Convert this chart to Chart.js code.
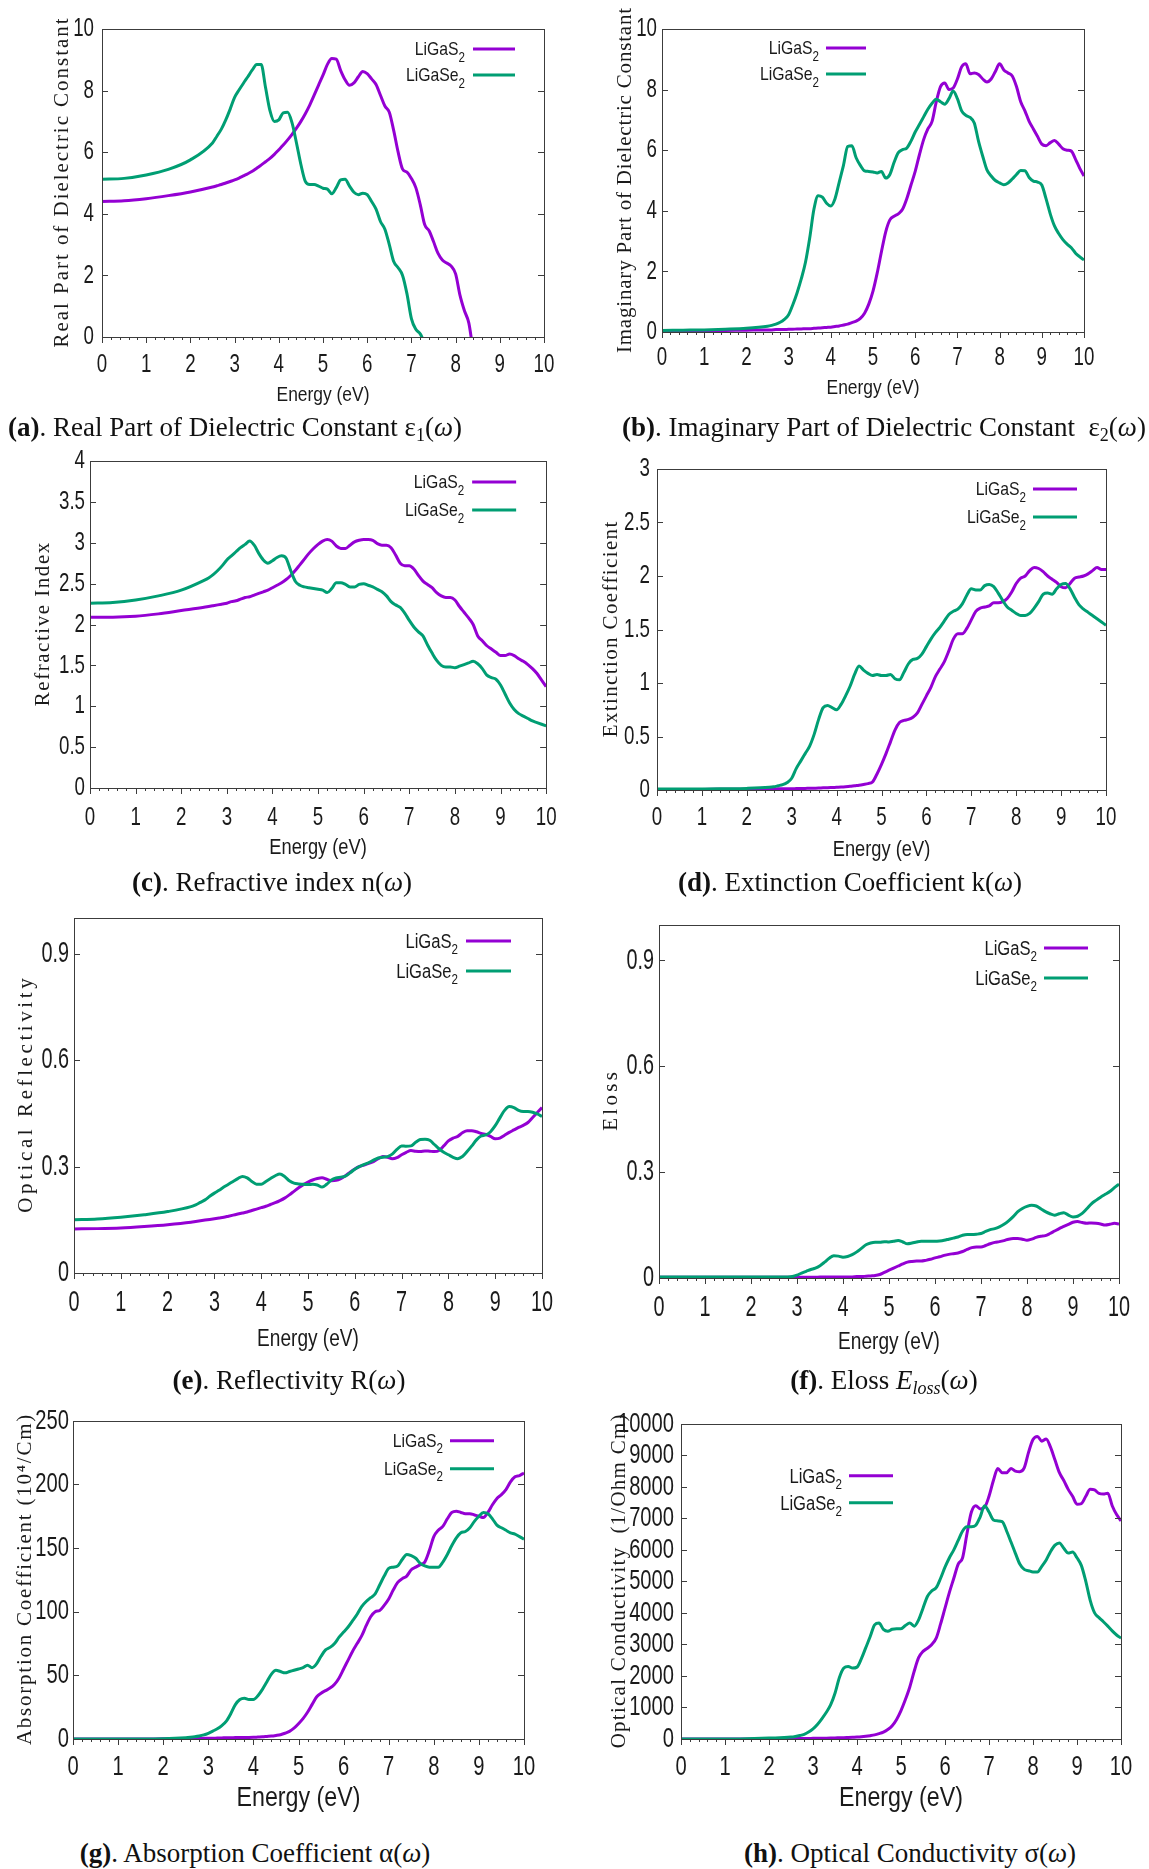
<!DOCTYPE html>
<html>
<head>
<meta charset="utf-8">
<title>LiGaS2 / LiGaSe2 optical properties</title>
<script src="https://cdn.jsdelivr.net/npm/chart.js@4.4.1/dist/chart.umd.min.js"></script>
<style>
  html, body { margin: 0; padding: 0; background: #fff; }
  body { position: relative; width: 1149px; height: 1869px; overflow: hidden;
         font-family: "Liberation Serif", "Times New Roman", serif; }
  canvas { position: absolute; }
  .cap { position: absolute; transform: translate(-50%, -50%); white-space: pre;
         font-size: 27px; line-height: 32px; color: #111; }
  .cap sub { font-size: 18px; vertical-align: -5px; line-height: 0; }
</style>
</head>
<body>
<canvas id="chartA"></canvas>
<canvas id="chartB"></canvas>
<canvas id="chartC"></canvas>
<canvas id="chartD"></canvas>
<canvas id="chartE"></canvas>
<canvas id="chartF"></canvas>
<canvas id="chartG"></canvas>
<canvas id="chartH"></canvas>

<div class="cap" style="left:235px;top:427px"><b>(a)</b>. Real Part of Dielectric Constant ε<sub>1</sub>(<i>ω</i>)</div>
<div class="cap" style="left:884px;top:427px"><b>(b)</b>. Imaginary Part of Dielectric Constant  ε<sub>2</sub>(<i>ω</i>)</div>
<div class="cap" style="left:272px;top:882px"><b>(c)</b>. Refractive index n(<i>ω</i>)</div>
<div class="cap" style="left:850px;top:882px"><b>(d)</b>. Extinction Coefficient k(<i>ω</i>)</div>
<div class="cap" style="left:289px;top:1380px"><b>(e)</b>. Reflectivity R(<i>ω</i>)</div>
<div class="cap" style="left:884px;top:1380px"><b>(f)</b>. Eloss <i>E<sub>loss</sub></i>(<i>ω</i>)</div>
<div class="cap" style="left:255px;top:1853px"><b>(g)</b>. Absorption Coefficient α(<i>ω</i>)</div>
<div class="cap" style="left:910px;top:1853px"><b>(h)</b>. Optical Conductivity σ(<i>ω</i>)</div>

<script>
// photon energy (eV), shared by every panel
const energy = [0, 0.5, 1, 1.5, 2,
  2.5, 2.6, 2.7, 2.8, 2.9,
  3.0, 3.1, 3.2, 3.3, 3.4, 3.5, 3.6, 3.7, 3.8, 3.9,
  4.0, 4.1, 4.2, 4.3, 4.4, 4.5, 4.6, 4.7, 4.8, 4.9,
  5.0, 5.1, 5.2, 5.3, 5.4, 5.5, 5.6, 5.7, 5.8, 5.9,
  6.0, 6.1, 6.2, 6.3, 6.4, 6.5, 6.6, 6.7, 6.8, 6.9,
  7.0, 7.1, 7.2, 7.3, 7.4, 7.5, 7.6, 7.7, 7.8, 7.9,
  8.0, 8.1, 8.2, 8.3, 8.4, 8.5, 8.6, 8.7, 8.8, 8.9,
  9.0, 9.1, 9.2, 9.3, 9.4, 9.5, 9.6, 9.7, 9.8, 9.9,
  10.0];

const seriesNames = ['LiGaS', 'LiGaSe'];   // both carry subscript 2

// (a) real part of dielectric constant
const eps1S = [4.40, 4.42, 4.49, 4.59, 4.71,
  4.87, 4.91, 4.95, 5.00, 5.05,
  5.10, 5.16, 5.23, 5.30, 5.38, 5.48, 5.58, 5.69, 5.80, 5.93,
  6.08, 6.23, 6.40, 6.58, 6.78, 7.00, 7.25, 7.53, 7.85, 8.18,
  8.50, 8.85, 9.04, 9.02, 8.65, 8.35, 8.17, 8.25, 8.45, 8.62,
  8.55, 8.38, 8.20, 7.85, 7.50, 7.30, 6.70, 6.00, 5.45, 5.35,
  5.15, 4.85, 4.30, 3.65, 3.45, 3.10, 2.72, 2.50, 2.40, 2.30,
  2.05, 1.35, 0.85, 0.45, -0.50, null, null, null, null, null,
  null, null, null, null, null, null, null, null, null, null,
  null];
const eps1Se = [5.12, 5.15, 5.26, 5.44, 5.75,
  6.30, 6.52, 6.75, 7.05, 7.40,
  7.78, 8.02, 8.24, 8.45, 8.67, 8.85, 8.85, 8.10, 7.35, 7.00,
  7.05, 7.28, 7.30, 6.95, 6.30, 5.60, 5.05, 4.95, 4.95, 4.90,
  4.83, 4.80, 4.65, 4.85, 5.10, 5.12, 4.90, 4.70, 4.62, 4.67,
  4.62, 4.40, 4.15, 3.75, 3.50, 3.00, 2.45, 2.25, 2.00, 1.40,
  0.60, 0.25, 0.10, -0.20, null, null, null, null, null, null,
  null, null, null, null, null, null, null, null, null, null,
  null, null, null, null, null, null, null, null, null, null,
  null];

// (b) imaginary part of dielectric constant
const eps2S = [0.02, 0.03, 0.04, 0.05, 0.06,
  0.07, 0.07, 0.08, 0.08, 0.08,
  0.09, 0.09, 0.10, 0.10, 0.11, 0.11, 0.12, 0.13, 0.14, 0.15,
  0.16, 0.18, 0.20, 0.23, 0.26, 0.31, 0.36, 0.45, 0.62, 0.92,
  1.35, 1.95, 2.65, 3.30, 3.70, 3.82, 3.90, 4.05, 4.40, 4.85,
  5.30, 5.85, 6.35, 6.70, 6.95, 7.60, 8.10, 8.22, 8.00, 8.05,
  8.35, 8.75, 8.85, 8.52, 8.55, 8.50, 8.35, 8.25, 8.35, 8.60,
  8.85, 8.65, 8.55, 8.45, 8.10, 7.60, 7.30, 6.95, 6.70, 6.45,
  6.20, 6.15, 6.25, 6.32, 6.20, 6.05, 6.00, 5.97, 5.70, 5.40,
  5.15];
const eps2Se = [0.05, 0.06, 0.07, 0.09, 0.12,
  0.19, 0.22, 0.26, 0.32, 0.42,
  0.57, 0.90, 1.29, 1.75, 2.30, 3.10, 4.05, 4.50, 4.45, 4.25,
  4.16, 4.40, 4.95, 5.50, 6.12, 6.15, 5.75, 5.50, 5.32, 5.30,
  5.28, 5.25, 5.30, 5.08, 5.20, 5.60, 5.92, 6.02, 6.07, 6.30,
  6.60, 6.85, 7.10, 7.35, 7.55, 7.68, 7.60, 7.52, 7.70, 7.95,
  7.70, 7.30, 7.15, 7.08, 6.90, 6.30, 5.80, 5.35, 5.15, 5.00,
  4.92, 4.86, 4.92, 5.05, 5.20, 5.33, 5.32, 5.10, 4.98, 4.95,
  4.85, 4.40, 3.90, 3.50, 3.25, 3.05, 2.90, 2.78, 2.60, 2.48,
  2.38];

// (c) refractive index
const nS = [2.09, 2.09, 2.10, 2.13, 2.17,
  2.21, 2.22, 2.23, 2.24, 2.25,
  2.26, 2.28, 2.29, 2.31, 2.33, 2.34, 2.36, 2.38, 2.40, 2.42,
  2.45, 2.48, 2.51, 2.55, 2.60, 2.66, 2.73, 2.80, 2.87, 2.93,
  2.98, 3.02, 3.04, 3.02, 2.96, 2.93, 2.93, 2.97, 3.01, 3.03,
  3.04, 3.04, 3.03, 2.99, 2.97, 2.97, 2.94, 2.85, 2.75, 2.72,
  2.72, 2.68, 2.60, 2.53, 2.49, 2.45, 2.39, 2.35, 2.33, 2.33,
  2.30, 2.22, 2.15, 2.08, 2.00, 1.86, 1.80, 1.74, 1.70, 1.66,
  1.62, 1.62, 1.64, 1.62, 1.58, 1.55, 1.51, 1.46, 1.40, 1.32,
  1.24];
const nSe = [2.26, 2.27, 2.30, 2.35, 2.42,
  2.54, 2.57, 2.61, 2.66, 2.72,
  2.79, 2.84, 2.89, 2.94, 2.98, 3.02, 2.97, 2.87, 2.79, 2.75,
  2.78, 2.82, 2.84, 2.81, 2.66, 2.53, 2.48, 2.46, 2.45, 2.44,
  2.43, 2.42, 2.39, 2.44, 2.51, 2.51, 2.49, 2.46, 2.46, 2.49,
  2.50, 2.48, 2.46, 2.43, 2.40, 2.35, 2.28, 2.24, 2.21, 2.14,
  2.05, 1.97, 1.91, 1.86, 1.75, 1.65, 1.56, 1.50, 1.48, 1.48,
  1.47, 1.49, 1.51, 1.53, 1.55, 1.52, 1.46, 1.38, 1.35, 1.33,
  1.26, 1.15, 1.04, 0.96, 0.91, 0.88, 0.85, 0.82, 0.80, 0.78,
  0.76];

// (d) extinction coefficient
const kS = [0.000, 0.005, 0.005, 0.007, 0.008,
  0.010, 0.010, 0.011, 0.011, 0.012,
  0.012, 0.013, 0.014, 0.015, 0.016, 0.017, 0.018, 0.020, 0.021, 0.023,
  0.025, 0.027, 0.030, 0.034, 0.040, 0.045, 0.052, 0.060, 0.075, 0.150,
  0.240, 0.340, 0.450, 0.560, 0.630, 0.650, 0.660, 0.680, 0.720, 0.800,
  0.880, 0.960, 1.060, 1.130, 1.200, 1.300, 1.410, 1.460, 1.460, 1.510,
  1.590, 1.670, 1.700, 1.710, 1.720, 1.750, 1.750, 1.760, 1.790, 1.850,
  1.930, 1.980, 2.000, 2.050, 2.080, 2.070, 2.040, 2.000, 1.970, 1.940,
  1.900, 1.890, 1.930, 1.980, 1.990, 2.000, 2.020, 2.050, 2.080, 2.060,
  2.060];
const kSe = [0.010, 0.010, 0.010, 0.012, 0.015,
  0.025, 0.030, 0.040, 0.050, 0.070,
  0.110, 0.200, 0.270, 0.340, 0.410, 0.520, 0.660, 0.770, 0.790, 0.770,
  0.750, 0.800, 0.880, 0.970, 1.080, 1.160, 1.120, 1.090, 1.070, 1.080,
  1.070, 1.070, 1.080, 1.040, 1.030, 1.100, 1.180, 1.220, 1.230, 1.270,
  1.340, 1.410, 1.470, 1.520, 1.580, 1.640, 1.670, 1.690, 1.740, 1.820,
  1.880, 1.870, 1.870, 1.910, 1.920, 1.900, 1.840, 1.770, 1.710, 1.680,
  1.650, 1.630, 1.630, 1.650, 1.700, 1.760, 1.830, 1.840, 1.830, 1.880,
  1.920, 1.930, 1.880, 1.800, 1.730, 1.690, 1.660, 1.630, 1.600, 1.570,
  1.540];

// (e) reflectivity
const rS = [0.124, 0.125, 0.127, 0.131, 0.136,
  0.143, 0.145, 0.147, 0.149, 0.151,
  0.153, 0.155, 0.157, 0.160, 0.163, 0.166, 0.169, 0.172, 0.176, 0.180,
  0.184, 0.188, 0.193, 0.198, 0.204, 0.211, 0.220, 0.230, 0.240, 0.249,
  0.256, 0.262, 0.266, 0.268, 0.264, 0.260, 0.261, 0.266, 0.274, 0.284,
  0.293, 0.300, 0.304, 0.309, 0.314, 0.322, 0.328, 0.326, 0.322, 0.325,
  0.333, 0.340, 0.345, 0.343, 0.342, 0.344, 0.343, 0.342, 0.345, 0.358,
  0.372, 0.380, 0.385, 0.395, 0.401, 0.401, 0.398, 0.393, 0.390, 0.385,
  0.378, 0.380, 0.388, 0.396, 0.403, 0.410, 0.416, 0.424, 0.438, 0.452,
  0.466];
const rSe = [0.150, 0.152, 0.157, 0.164, 0.173,
  0.187, 0.192, 0.199, 0.206, 0.216,
  0.225, 0.233, 0.242, 0.250, 0.258, 0.266, 0.272, 0.268, 0.258, 0.250,
  0.250, 0.258, 0.266, 0.274, 0.279, 0.272, 0.260, 0.253, 0.251, 0.250,
  0.249, 0.250, 0.248, 0.242, 0.250, 0.262, 0.268, 0.270, 0.273, 0.282,
  0.292, 0.300, 0.306, 0.311, 0.318, 0.324, 0.326, 0.328, 0.335, 0.348,
  0.358, 0.357, 0.358, 0.368, 0.376, 0.377, 0.374, 0.362, 0.350, 0.340,
  0.333, 0.326, 0.322, 0.328, 0.342, 0.358, 0.375, 0.386, 0.389, 0.398,
  0.415, 0.437, 0.458, 0.469, 0.466, 0.458, 0.455, 0.455, 0.453, 0.448,
  0.441];

// (f) energy loss
const lossS = [0.002, 0.002, 0.002, 0.002, 0.002,
  0.002, 0.002, 0.002, 0.002, 0.002,
  0.002, 0.002, 0.002, 0.002, 0.002, 0.003, 0.003, 0.003, 0.003, 0.003,
  0.003, 0.003, 0.003, 0.004, 0.004, 0.005, 0.006, 0.007, 0.010, 0.016,
  0.022, 0.028, 0.034, 0.040, 0.045, 0.047, 0.048, 0.048, 0.050, 0.053,
  0.057, 0.060, 0.064, 0.067, 0.069, 0.071, 0.075, 0.081, 0.086, 0.088,
  0.088, 0.092, 0.097, 0.101, 0.103, 0.106, 0.110, 0.112, 0.112, 0.110,
  0.107, 0.110, 0.115, 0.118, 0.120, 0.126, 0.133, 0.140, 0.146, 0.152,
  0.158, 0.160, 0.157, 0.155, 0.156, 0.155, 0.153, 0.150, 0.152, 0.155,
  0.153];
const lossSe = [0.003, 0.003, 0.003, 0.003, 0.003,
  0.003, 0.003, 0.003, 0.003, 0.004,
  0.008, 0.014, 0.019, 0.024, 0.028, 0.035, 0.045, 0.056, 0.063, 0.062,
  0.059, 0.061, 0.066, 0.074, 0.084, 0.094, 0.099, 0.101, 0.101, 0.103,
  0.102, 0.104, 0.106, 0.102, 0.097, 0.099, 0.102, 0.104, 0.104, 0.104,
  0.104, 0.105, 0.107, 0.110, 0.113, 0.116, 0.121, 0.123, 0.123, 0.124,
  0.126, 0.132, 0.137, 0.140, 0.145, 0.152, 0.162, 0.174, 0.188, 0.197,
  0.203, 0.206, 0.204, 0.196, 0.188, 0.182, 0.178, 0.182, 0.185, 0.178,
  0.173, 0.175, 0.183, 0.196, 0.210, 0.220, 0.229, 0.237, 0.245, 0.256,
  0.266];

// (g) absorption coefficient (10^4 / cm)
const alphaS = [0, 0, 0, 0, 0.1,
  0.2, 0.3, 0.3, 0.4, 0.5,
  0.5, 0.6, 0.7, 0.8, 1.0, 1.0, 1.1, 1.1, 1.2, 1.2,
  1.3, 1.5, 1.7, 2.0, 2.3, 2.8, 3.4, 4.5, 6.0, 8.5,
  12, 16, 21, 27, 33, 36, 38, 40, 43, 48,
  55, 62, 69, 75, 81, 89, 96, 100, 101, 105,
  110, 117, 123, 126, 128, 133, 135, 137, 139, 148,
  159, 164, 167, 173, 178, 179, 178, 177, 177, 176,
  175, 174, 178, 184, 189, 192, 196, 202, 206, 207,
  209];
const alphaSe = [0, 0, 0, 0, 0.2,
  1.0, 1.3, 1.7, 2.3, 3.2,
  4.5, 6.2, 8.0, 10.5, 14, 20, 27, 31, 32, 31,
  31, 34, 39, 45, 51, 54, 53, 52, 53, 54,
  55, 56, 58, 56, 59, 65, 70, 72, 75, 80,
  84, 88, 93, 98, 104, 108, 111, 114, 121, 128,
  134, 135, 136, 141, 145, 144, 142, 138, 136, 135,
  135, 135, 139, 145, 152, 158, 162, 163, 166, 171,
  175, 178, 177, 173, 168, 166, 164, 162, 161, 159,
  157];

// (h) optical conductivity (1/Ohm cm)
const sigmaS = [0, 0, 0, 0, 5,
  10, 12, 14, 16, 18,
  20, 22, 24, 26, 30, 35, 38, 42, 48, 54,
  60, 70, 85, 105, 130, 170, 220, 300, 420, 620,
  900, 1250, 1650, 2150, 2580, 2780, 2880, 3000, 3200, 3650,
  4150, 4650, 5100, 5550, 5750, 6520, 7200, 7400, 7300, 7350,
  7700, 8200, 8580, 8450, 8450, 8580, 8500, 8480, 8600, 9100,
  9500, 9600, 9450, 9520, 9250, 8850, 8450, 8200, 7920, 7700,
  7450, 7470, 7700, 7920, 7900, 7790, 7770, 7800, 7400, 7120,
  6920];
const sigmaSe = [0, 0, 0, 10, 30,
  60, 80, 110, 150, 220,
  320, 460, 640, 840, 1080, 1450, 1950, 2250, 2300, 2250,
  2280, 2550, 2900, 3250, 3620, 3680, 3480, 3420, 3480, 3500,
  3500, 3600, 3680, 3580, 3780, 4150, 4520, 4700, 4800, 5100,
  5450, 5750, 6000, 6300, 6600, 6730, 6730, 6780, 7050, 7400,
  7200, 6950, 6920, 6900, 6600, 6250, 5890, 5550, 5380, 5340,
  5300, 5300, 5480, 5680, 5950, 6150, 6220, 6050, 5900, 5930,
  5750, 5500, 5000, 4400, 4000, 3850, 3720, 3580, 3430, 3300,
  3200];

// tick labels
const xTicks = [0, 1, 2, 3, 4, 5, 6, 7, 8, 9, 10];
const yTicksEps = [0, 2, 4, 6, 8, 10];
const yTicksN = [0, 0.5, 1, 1.5, 2, 2.5, 3, 3.5, 4];
const yTicksK = [0, 0.5, 1, 1.5, 2, 2.5, 3];
const yTicksR = [0, 0.3, 0.6, 0.9];
const yTicksAlpha = [0, 50, 100, 150, 200, 250];
const yTicksSigma = [0, 1000, 2000, 3000, 4000, 5000, 6000, 7000, 8000, 9000, 10000];

const PURPLE = '#9400d3';
const GREEN = '#009e73';
const SANS = '"Liberation Sans Narrow", "Liberation Sans", Arial, sans-serif';
const SERIF = '"Liberation Serif", "DejaVu Serif", serif';
const TEXT_SQUEEZE = 0.83;   // the original uses a condensed sans face

// box = canvas [x, y, w, h]; area = plot frame [left, top, right, bottom] in page pixels
const panels = [
  { canvas: 'chartA', s: eps1S, se: eps1Se, yTicks: yTicksEps, yMax: 10,
    box: [0, 0, 575, 410], area: [102, 29, 544, 337], tick: 26, squeeze: 0.72, xLab: 28, yLab: 8,
    xTitle: 21, xTitleOff: 58, yTitle: 'Real Part of Dielectric Constant', yTitleOff: 40, yTitleLen: 331,
    legend: { side: 'right', text: 79, l1: 71, l2: 29, rows: [20, 46], size: 19 } },
  { canvas: 'chartB', s: eps2S, se: eps2Se, yTicks: yTicksEps, yMax: 10,
    box: [575, 0, 574, 410], area: [662, 29, 1084, 332], tick: 26, squeeze: 0.72, xLab: 26, yLab: 5,
    xTitle: 21, xTitleOff: 56, yTitle: 'Imaginary Part of Dielectric Constant', yTitleOff: 37, yTitleLen: 346,
    legend: { side: 'left', text: 157, l1: 164, l2: 204, rows: [19, 45], size: 19 } },
  { canvas: 'chartC', s: nS, se: nSe, yTicks: yTicksN, yMax: 4,
    box: [0, 410, 575, 460], area: [90, 461, 549, 788], tick: 26, squeeze: 0.72, xLab: 30, yLab: 5,
    xTitle: 22, xTitleOff: 60, yTitle: 'Refractive Index', yTitleOff: 47, yTitleLen: 165,
    legend: { side: 'right', text: 82, l1: 74, l2: 30, rows: [21, 49], size: 19 } },
  { canvas: 'chartD', s: kS, se: kSe, yTicks: yTicksK, yMax: 3,
    box: [575, 410, 574, 460], area: [657, 469, 1106, 790], tick: 26, squeeze: 0.72, xLab: 28, yLab: 7,
    xTitle: 22, xTitleOff: 60, yTitle: 'Extinction Coefficient', yTitleOff: 46, yTitleLen: 217,
    legend: { side: 'right', text: 80, l1: 73, l2: 29, rows: [20, 48], size: 19 } },
  { canvas: 'chartE', s: rS, se: rSe, yTicks: yTicksR, yMax: 1,
    box: [0, 870, 575, 495], area: [74, 918, 542, 1273], tick: 30, squeeze: 0.66, xLab: 30, yLab: 5,
    xTitle: 23, xTitleOff: 67, yTitle: 'Optical Reflectivity', yTitleOff: 48, yTitleLen: 238,
    legend: { side: 'right', text: 84, l1: 76, l2: 31, rows: [23, 53], size: 20 } },
  { canvas: 'chartF', s: lossS, se: lossSe, yTicks: yTicksR, yMax: 1,
    box: [575, 870, 574, 495], area: [659, 925, 1119, 1278], tick: 30, squeeze: 0.66, xLab: 30, yLab: 5,
    xTitle: 23, xTitleOff: 65, yTitle: 'Eloss', yTitleOff: 48, yTitleLen: 62,
    legend: { side: 'right', text: 82, l1: 75, l2: 31, rows: [23, 53], size: 20 } },
  { canvas: 'chartG', s: alphaS, se: alphaSe, yTicks: yTicksAlpha, yMax: 250,
    box: [0, 1400, 575, 435], area: [73, 1415, 524, 1739], tick: 28, squeeze: 0.72, xLab: 28, yLab: 4,
    xTitle: 28, xTitleOff: 59, yTitle: 'Absorption Coefficient (10\u2074/Cm)', yTitleOff: 48, yTitleLen: 332,
    legend: { side: 'right', text: 81, l1: 74, l2: 30, rows: [20, 48], size: 19 } },
  { canvas: 'chartH', s: sigmaS, se: sigmaSe, yTicks: yTicksSigma, yMax: 10000,
    box: [575, 1400, 574, 435], area: [681, 1423, 1121, 1739], tick: 28, squeeze: 0.72, xLab: 28, yLab: 7,
    xTitle: 28, xTitleOff: 59, yTitle: 'Optical Conductivity  (1/Ohm Cm)', yTitleOff: 62, yTitleLen: 335,
    legend: { side: 'left', text: 161, l1: 168, l2: 212, rows: [52, 79], size: 20 } }
];

// draw the scale's own label items, narrowed horizontally
function squeezeLabels(scale, k) {
  scale.drawLabels = function (chartArea) {
    const ctx = this.ctx;
    for (const item of this.getLabelItems(chartArea)) {
      const o = item.options;
      ctx.save();
      ctx.translate(o.translation[0], o.translation[1]);
      ctx.scale(k, 1);
      ctx.font = item.font.string;
      ctx.fillStyle = o.color;
      ctx.textAlign = o.textAlign;
      ctx.textBaseline = o.textBaseline;
      ctx.fillText(String(item.label), 0, item.textOffset);
      ctx.restore();
    }
  };
}

function narrowText(ctx, text, x, y, align) {
  ctx.save();
  ctx.translate(x, y);
  ctx.scale(TEXT_SQUEEZE, 1);
  ctx.textAlign = align;
  ctx.fillText(text, 0, 0);
  ctx.restore();
}

// gnuplot-like frame, ticks, axis titles and key
const gnuFrame = {
  id: 'gnuFrame',
  afterDraw(chart, args, p) {
    const ctx = chart.ctx;
    const a = chart.chartArea;
    const xs = chart.scales.x, ys = chart.scales.y;
    ctx.save();
    ctx.strokeStyle = '#3c3c3c';
    ctx.lineWidth = 1;
    ctx.strokeRect(Math.round(a.left) + 0.5, Math.round(a.top) + 0.5,
      Math.round(a.right - a.left), Math.round(a.bottom - a.top));
    ctx.beginPath();
    for (let i = 0; i <= 50; i++) {
      const px = Math.round(xs.getPixelForValue(i / 5)) + 0.5;
      const len = i % 5 === 0 ? 6 : 3;
      ctx.moveTo(px, a.bottom);
      ctx.lineTo(px, a.bottom + len);
    }
    ys.ticks.forEach(t => {
      const py = Math.round(ys.getPixelForValue(t.value)) + 0.5;
      ctx.moveTo(a.left, py); ctx.lineTo(a.left + 6, py);
      ctx.moveTo(a.right, py); ctx.lineTo(a.right - 6, py);
    });
    ctx.stroke();

    ctx.fillStyle = '#1a1a1a';
    // x title
    ctx.font = p.xTitle + 'px ' + SANS;
    ctx.textBaseline = 'middle';
    narrowText(ctx, 'Energy (eV)', (a.left + a.right) / 2, a.bottom + p.xTitleOff, 'center');

    // y title, spaced out to the reference length
    ctx.save();
    ctx.translate(a.left - p.yTitleOff, (a.top + a.bottom) / 2);
    ctx.rotate(-Math.PI / 2);
    ctx.font = '21px ' + SERIF;
    ctx.letterSpacing = '0px';
    const w0 = ctx.measureText(p.yTitle).width;
    const sp = Math.max(-1, (p.yTitleLen - w0) / p.yTitle.length);
    ctx.letterSpacing = sp.toFixed(2) + 'px';
    ctx.textAlign = 'center';
    ctx.fillText(p.yTitle, sp / 2, 0);
    ctx.restore();

    // key
    const lg = p.legend;
    const base = lg.side === 'right' ? a.right : a.left;
    const sign = lg.side === 'right' ? -1 : 1;
    const colors = [PURPLE, GREEN];
    const mainFont = lg.size + 'px ' + SANS;
    const subFont = Math.round(lg.size * 0.72) + 'px ' + SANS;
    ctx.textBaseline = 'alphabetic';
    seriesNames.forEach((name, i) => {
      const y = a.top + lg.rows[i];
      ctx.font = subFont;
      const ws = ctx.measureText('2').width * TEXT_SQUEEZE;
      ctx.font = mainFont;
      const xr = base + sign * lg.text;
      narrowText(ctx, name, xr - ws, y + lg.size * 0.34, 'right');
      ctx.font = subFont;
      narrowText(ctx, '2', xr - ws, y + lg.size * 0.66, 'left');
      ctx.strokeStyle = colors[i];
      ctx.lineWidth = 3;
      ctx.beginPath();
      ctx.moveTo(base + sign * lg.l1, y);
      ctx.lineTo(base + sign * lg.l2, y);
      ctx.stroke();
    });
    ctx.restore();
  }
};

function lineData(values) {
  return energy.map((e, i) => ({ x: e, y: values[i] }));
}

function makeChart(p) {
  const canvas = document.getElementById(p.canvas);
  const [bx, by, bw, bh] = p.box;
  const [L, T, R, B] = p.area;
  canvas.width = bw;
  canvas.height = bh;
  canvas.style.left = bx + 'px';
  canvas.style.top = by + 'px';
  const yAxisW = L - bx;
  const xAxisH = by + bh - B;

  return new Chart(canvas, {
    type: 'line',
    data: {
      datasets: [
        { label: seriesNames[0] + '2', data: lineData(p.s), borderColor: PURPLE, order: 1 },
        { label: seriesNames[1] + '2', data: lineData(p.se), borderColor: GREEN, order: 0 }
      ]
    },
    options: {
      responsive: false,
      animation: false,
      devicePixelRatio: 1,
      layout: { autoPadding: false, padding: { left: 0, bottom: 0, top: T - by, right: bx + bw - R } },
      elements: {
        point: { radius: 0 },
        line: { borderWidth: 3, cubicInterpolationMode: 'monotone', fill: false }
      },
      spanGaps: false,
      plugins: {
        legend: { display: false },
        tooltip: { enabled: false },
        gnuFrame: p
      },
      scales: {
        x: {
          type: 'linear', min: 0, max: 10,
          afterBuildTicks: s => { s.ticks = xTicks.map(v => ({ value: v })); },
          afterFit: s => { s.height = xAxisH; squeezeLabels(s, p.squeeze); },
          ticks: { font: { family: SANS, size: p.tick }, color: '#1a1a1a', maxRotation: 0,
                   autoSkip: false, padding: p.xLab - 0.6 * p.tick, callback: v => String(v) },
          grid: { display: false, drawTicks: false },
          border: { display: false }
        },
        y: {
          type: 'linear', min: 0, max: p.yMax,
          afterBuildTicks: s => { s.ticks = p.yTicks.map(v => ({ value: v })); },
          afterFit: s => { s.width = yAxisW; squeezeLabels(s, p.squeeze); },
          ticks: { font: { family: SANS, size: p.tick }, color: '#1a1a1a',
                   autoSkip: false, padding: p.yLab, callback: v => String(v) },
          grid: { display: false, drawTicks: false },
          border: { display: false }
        }
      }
    },
    plugins: [gnuFrame]
  });
}

panels.forEach(makeChart);
</script>
</body>
</html>
